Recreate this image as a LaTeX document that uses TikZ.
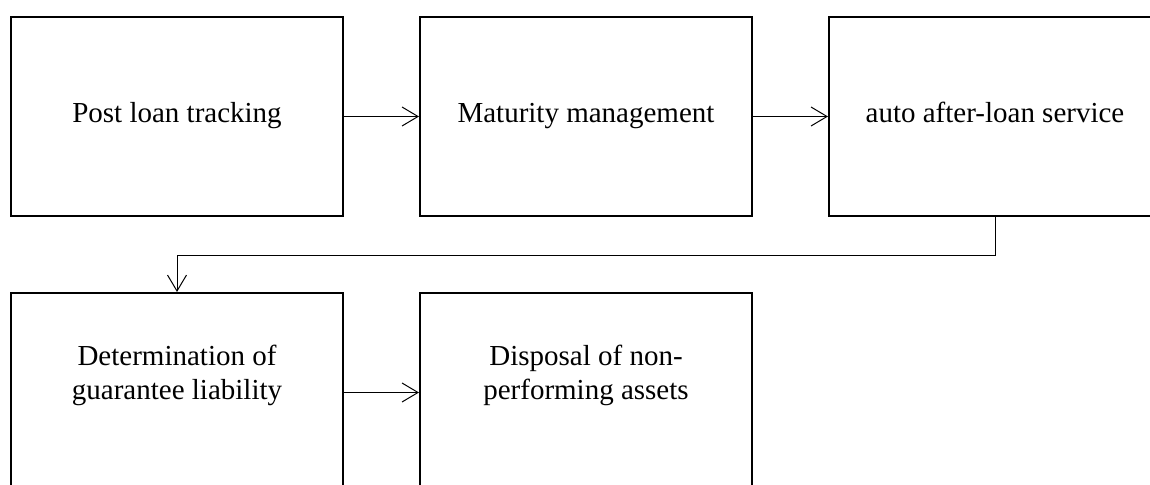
\documentclass[tikz,border=0pt]{standalone}
\usepackage{fontspec}
\setmainfont{Liberation Serif}
\usetikzlibrary{arrows.meta}

\tikzset{
  stagebox/.style={draw=black, line width=2bp, minimum width=332bp, minimum height=199bp,
    inner sep=0pt, align=center, text height=19bp, text depth=6bp,
    font=\fontsize{29bp}{34bp}\selectfont},
  flow/.style={line width=1bp, -{Straight Barb[length=16bp,width=19bp,line width=1bp]}}
}

\begin{document}
\begin{tikzpicture}[x=1bp,y=-1bp]
  \useasboundingbox[fill=white] (0,0) rectangle (1150,485);

  % upper row of stages
  \node[stagebox] (track)    at (177,116.5) {Post loan tracking};
  \node[stagebox] (maturity) at (586,116.5) {Maturity management};
  \node[stagebox] (service)  at (995,116.5) {auto after-loan service};

  % lower row of stages
  \node[stagebox] (guarantee) at (177,392.5) {Determination of\\guarantee liability};
  \node[stagebox] (disposal)  at (586,392.5) {Disposal of non-\\performing assets};

  % connectors
  \draw[flow] (track.east) -- (maturity.west);
  \draw[flow] (maturity.east) -- (service.west);
  \draw[flow] (service.south) -- ++(0,39) -| (guarantee.north);
  \draw[flow] (guarantee.east) -- (disposal.west);
\end{tikzpicture}
\end{document}
